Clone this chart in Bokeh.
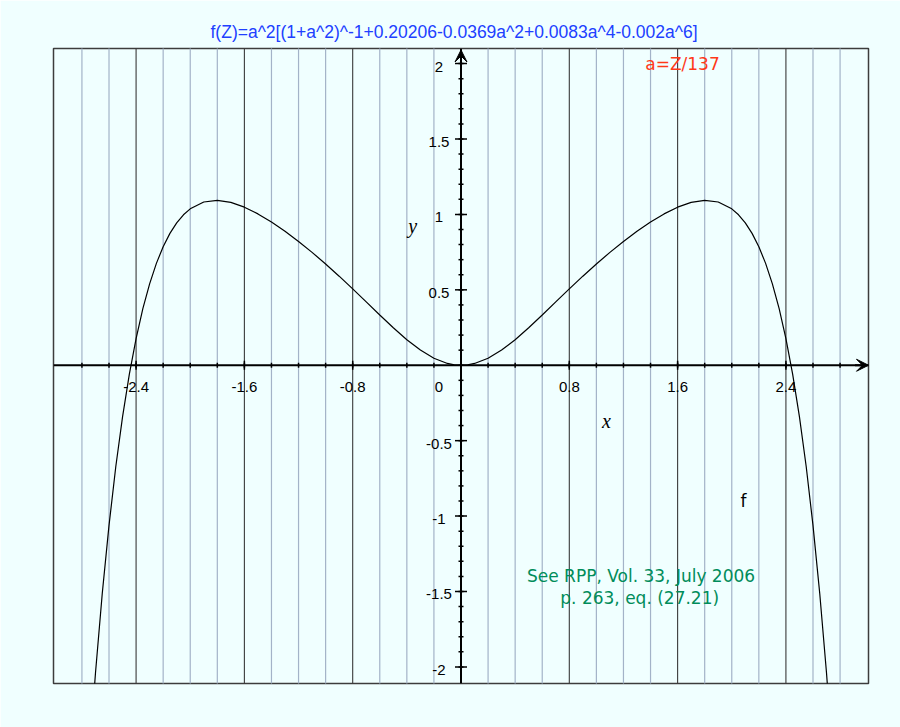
import math

from bokeh.plotting import figure
from bokeh.models import Range1d, Label, Arrow, VeeHead
from bokeh.core.properties import value
from bokeh.embed import file_html
from bokeh.resources import INLINE

# Sampled values of f along the x axis
curve_x = [-2.75, -2.7, -2.65, -2.6, -2.55, -2.5, -2.45, -2.4, -2.35, -2.3,
           -2.25, -2.2, -2.15, -2.1, -2.05, -2.0, -1.9, -1.8, -1.7, -1.6,
           -1.5, -1.4, -1.3, -1.2, -1.1, -1.0, -0.9, -0.8, -0.7, -0.6,
           -0.5, -0.4, -0.3, -0.2, -0.1, -0.05, 0.0, 0.05, 0.1, 0.2,
           0.3, 0.4, 0.5, 0.6, 0.7, 0.8, 0.9, 1.0, 1.1, 1.2,
           1.3, 1.4, 1.5, 1.6, 1.7, 1.8, 1.9, 2.0, 2.05, 2.1,
           2.15, 2.2, 2.25, 2.3, 2.35, 2.4, 2.45, 2.5, 2.55, 2.6,
           2.65, 2.7, 2.75]
curve_y = [-2.6510, -2.0416, -1.5150, -1.0617, -0.6732, -0.3419, -0.0607, 0.1763, 0.3749, 0.5398,
           0.6755, 0.7859, 0.8744, 0.9440, 0.9975, 1.0370, 1.0824, 1.0934, 1.0795, 1.0479,
           1.0034, 0.9494, 0.8881, 0.8208, 0.7484, 0.6715, 0.5905, 0.5063, 0.4199, 0.3330,
           0.2483, 0.1693, 0.1005, 0.0465, 0.0119, 0.0030, 0.0, 0.0030, 0.0119, 0.0465,
           0.1005, 0.1693, 0.2483, 0.3330, 0.4199, 0.5063, 0.5905, 0.6715, 0.7484, 0.8208,
           0.8881, 0.9494, 1.0034, 1.0479, 1.0795, 1.0934, 1.0824, 1.0370, 0.9975, 0.9440,
           0.8744, 0.7859, 0.6755, 0.5398, 0.3749, 0.1763, -0.0607, -0.3419, -0.6732, -1.0617,
           -1.5150, -2.0416, -2.6510]

# Axis ticks and labels
x_minor_ticks = [-2.8, -2.6, -2.4, -2.2, -2.0, -1.8, -1.6, -1.4, -1.2, -1.0,
                 -0.8, -0.6, -0.4, -0.2, 0.0, 0.2, 0.4, 0.6, 0.8, 1.0,
                 1.2, 1.4, 1.6, 1.8, 2.0, 2.2, 2.4, 2.6, 2.8]
x_major_ticks = [-2.4, -1.6, -0.8, 0.8, 1.6, 2.4]
x_tick_labels = ["-2.4", "-1.6", "-0.8", "0.8", "1.6", "2.4"]

y_minor_ticks = [-2.0, -1.9, -1.8, -1.7, -1.6, -1.5, -1.4, -1.3, -1.2, -1.1,
                 -1.0, -0.9, -0.8, -0.7, -0.6, -0.5, -0.4, -0.3, -0.2, -0.1,
                 0.0, 0.1, 0.2, 0.3, 0.4, 0.5, 0.6, 0.7, 0.8, 0.9,
                 1.0, 1.1, 1.2, 1.3, 1.4, 1.5, 1.6, 1.7, 1.8, 1.9, 2.0]
y_major_ticks = [-2.0, -1.5, -1.0, -0.5, 0.5, 1.0, 1.5, 2.0]
y_tick_labels = ["-2", "-1.5", "-1", "-0.5", "0.5", "1", "1.5", "2"]

title_text = "f(Z)=a^2[(1+a^2)^-1+0.20206-0.0369a^2+0.0083a^4-0.002a^6]"

X_MIN, X_MAX = -3.01, 3.01
Y_MIN, Y_MAX = -2.11, 2.10

BG = "#F0FFFF"
SANS = "Liberation Sans"
WIDE = "DejaVu Sans"

p = figure(width=900, height=727,
           x_range=Range1d(X_MIN, X_MAX), y_range=Range1d(Y_MIN, Y_MAX),
           x_axis_location=None, y_axis_location=None,
           toolbar_location=None, output_backend="svg",
           min_border_left=53, min_border_right=32,
           min_border_top=48, min_border_bottom=44,
           background_fill_color=BG, border_fill_color=BG)
p.grid.visible = False
p.outline_line_color = "#3c3c3c"
p.outline_line_width = 1.5

# title above the frame
p.title.text = title_text
p.title.align = "left"
p.title.offset = 157
p.title.text_color = "#2040ff"
p.title.text_font = SANS
p.title.text_font_size = "17.5px"
p.title.text_font_style = "normal"
p.title.standoff = 13

# vertical grid: light lines every 0.2, dark lines every 0.8
grid_major = list(x_major_ticks)
grid_minor = [t for t in x_minor_ticks if t not in grid_major and t != 0.0]
p.segment(x0=grid_minor, y0=[Y_MIN - 1] * len(grid_minor),
          x1=grid_minor, y1=[Y_MAX + 1] * len(grid_minor),
          line_color="#a3b3c8", line_width=1.2)
p.segment(x0=grid_major, y0=[Y_MIN - 1] * len(grid_major),
          x1=grid_major, y1=[Y_MAX + 1] * len(grid_major),
          line_color="#3a3a3a", line_width=1.1)

# axes through the origin
p.segment(x0=[X_MIN, 0], y0=[0, Y_MIN], x1=[X_MAX, 0], y1=[0, Y_MAX],
          line_color="black", line_width=2)
p.add_layout(Arrow(end=VeeHead(size=12, fill_color="black", line_color="black", line_width=1),
                   x_start=X_MAX - 0.1, y_start=0, x_end=X_MAX, y_end=0,
                   line_color="black", line_width=2))
p.add_layout(Arrow(end=VeeHead(size=12, fill_color="black", line_color="black", line_width=1),
                   x_start=0, y_start=Y_MAX - 0.1, x_end=0, y_end=Y_MAX - 0.01,
                   line_color="black", line_width=2))

# tick marks
p.scatter(x=x_minor_ticks, y=[0] * len(x_minor_ticks), marker="dash", size=5,
          angle=math.pi / 2, line_color="black", line_width=1.5)
p.scatter(x=x_major_ticks, y=[0] * len(x_major_ticks), marker="dash", size=9,
          angle=math.pi / 2, line_color="black", line_width=1.5)
p.scatter(x=[0] * len(y_minor_ticks), y=y_minor_ticks, marker="dash", size=5,
          line_color="black", line_width=1.5)
p.scatter(x=[0] * len(y_major_ticks), y=y_major_ticks, marker="dash", size=12,
          line_color="black", line_width=1.5)

# tick labels
p.text(x=x_major_ticks, y=[0] * len(x_major_ticks), text=x_tick_labels,
       y_offset=22, text_align="center", text_baseline="middle",
       text_font=value(SANS), text_font_size="15px", text_color="black")
p.text(x=[0] * len(y_major_ticks), y=y_major_ticks, text=y_tick_labels,
       x_offset=-22, y_offset=3, text_align="center", text_baseline="middle",
       text_font=value(SANS), text_font_size="15px", text_color="black")
p.text(x=[0], y=[0], text=["0"], x_offset=-22, y_offset=22,
       text_align="center", text_baseline="middle",
       text_font=value(SANS), text_font_size="15px", text_color="black")

# the function
p.line(curve_x, curve_y, line_color="black", line_width=1.2)

# annotations inside the frame
def add_label(x, y, text, color, font, size, style="normal"):
    p.add_layout(Label(x=x, y=y, text=text, text_color=color, text_font=font,
                       text_font_size=size, text_font_style=style,
                       text_align="center", text_baseline="middle"))

add_label(1.636, 1.994, "a=Z/137", "#ff3818", WIDE, "17px")
add_label(-0.356, 0.923, "y", "black", "Liberation Serif", "20px", "italic")
add_label(1.075, -0.367, "x", "black", "Liberation Serif", "20px", "italic")
add_label(2.087, -0.897, "f", "black", WIDE, "17px")
add_label(1.33, -1.395, "See RPP, Vol. 33, July 2006", "#008c5a", WIDE, "17px")
add_label(1.32, -1.540, "p. 263, eq. (27.21)", "#008c5a", WIDE, "17px")

open("out.html", "w").write(file_html(p, INLINE))
